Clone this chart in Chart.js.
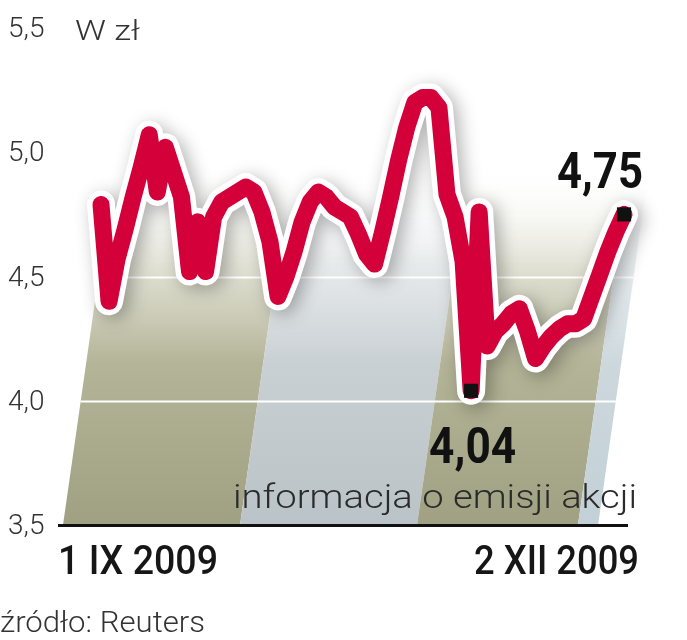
<!DOCTYPE html>
<html><head><meta charset="utf-8">
<script src="https://cdn.jsdelivr.net/npm/chart.js@4.4.1/dist/chart.umd.min.js"></script>
<style>html,body{margin:0;padding:0;background:#fff}#wrap{width:687px;height:640px;position:relative}canvas{display:block}</style>
</head><body><div id="wrap"><canvas id="c" width="687" height="640"></canvas></div>
<script>
// ---- data ----
const categories = [
 '1.09','2.09','3.09','4.09','7.09','8.09','9.09','10.09','11.09','14.09','15.09','16.09','17.09','18.09','21.09','22.09','23.09','24.09','25.09','28.09','29.09','30.09',
 '1.10','2.10','5.10','6.10','7.10','8.10','9.10','12.10','13.10','14.10','15.10','16.10','19.10','20.10','21.10','22.10','23.10','26.10','27.10','28.10','29.10','30.10',
 '2.11','3.11','4.11','5.11','6.11','9.11','10.11','12.11','13.11','16.11','17.11','18.11','19.11','20.11','23.11','24.11','25.11','26.11','27.11','30.11',
 '1.12','2.12'
];
const prices = [
 4.79, 4.40, 4.57, 4.69, 4.82, 4.94, 5.07, 4.84, 5.02, 4.92,
 4.82, 4.52, 4.72, 4.52, 4.74, 4.80, 4.82, 4.84, 4.86, 4.84,
 4.76, 4.64, 4.42, 4.50, 4.60, 4.72, 4.80, 4.84, 4.82, 4.78,
 4.76, 4.74, 4.67, 4.59, 4.55, 4.68, 4.82, 4.97, 5.10, 5.20,
 5.22, 5.22, 5.18, 4.83, 4.74, 4.56, 4.04, 4.76, 4.22, 4.28,
 4.31, 4.35, 4.37, 4.28, 4.17, 4.22, 4.26, 4.29, 4.31, 4.31,
 4.33, 4.42, 4.51, 4.60, 4.68, 4.75
];
const yTicks = [3.5, 4.0, 4.5, 5.0, 5.5];
const gridValues = [4.0, 4.5];
const unitLabel = 'W zł';
const edgeLabels = ['1 IX 2009', '2 XII 2009'];
const markedIdx = [46, 65];
const markedLabels = ['4,04', '4,75'];
const noteText = 'informacja o emisji akcji';
const sourceText = 'źródło: Reuters';
const monthBounds = [0, 22, 44, 64, 66.5]; // category indices where months begin (Sep, Oct, Nov, Dec, end)

// ---- drawing helpers ----
const SLANT = 0.143;
const BAND_SHIFT = -38;
const bandStyles = [
  {bottom:'rgb(160,160,130)', mid:'rgb(180,180,152)', top:'rgba(220,220,205,0.85)'},
  {bottom:'rgb(186,195,199)', mid:'rgb(201,208,211)', top:'rgba(226,230,232,0.85)'},
  {bottom:'rgb(160,160,130)', mid:'rgb(180,180,152)', top:'rgba(220,220,205,0.85)'},
  {bottom:'rgb(194,208,215)', mid:'rgb(205,216,221)', top:'rgba(228,234,237,0.85)'}
];

function fitText(ctx, text, x, y, font, width, align, color) {
  ctx.save();
  ctx.font = font;
  ctx.fillStyle = color || '#1a1a1a';
  ctx.textBaseline = 'alphabetic';
  ctx.textAlign = 'left';
  const m = ctx.measureText(text).width;
  const s = width / m;
  ctx.translate(x, y);
  ctx.scale(s, 1);
  ctx.fillText(text, align === 'right' ? -m : 0, 0);
  ctx.restore();
}

const decor = {
  id: 'decor',
  beforeDatasetsDraw(chart) {
    const {ctx, scales:{x, y}} = chart;
    const yb = y.getPixelForValue(yTicks[0]);
    const yTop = y.getPixelForValue(4.95);
    const edge = (idx, py) => x.getPixelForValue(idx) + BAND_SHIFT + (yb - py) * SLANT;
    ctx.save();
    for (let k = 0; k < monthBounds.length - 1; k++) {
      const st = bandStyles[k];
      const g = ctx.createLinearGradient(0, yb, 0, yTop);
      g.addColorStop(0, st.bottom);
      g.addColorStop(0.45, st.mid);
      g.addColorStop(0.72, st.top);
      g.addColorStop(1, 'rgba(255,255,255,0)');
      ctx.fillStyle = g;
      ctx.beginPath();
      ctx.moveTo(edge(monthBounds[k], yb), yb);
      ctx.lineTo(edge(monthBounds[k+1], yb), yb);
      ctx.lineTo(edge(monthBounds[k+1], yTop), yTop);
      ctx.lineTo(edge(monthBounds[k], yTop), yTop);
      ctx.closePath();
      ctx.fill();
    }
    ctx.strokeStyle = '#ffffff';
    ctx.lineWidth = 2;
    gridValues.forEach(v => {
      const py = Math.round(y.getPixelForValue(v)) + 0.5;
      ctx.beginPath();
      ctx.moveTo(edge(monthBounds[0], py), py);
      ctx.lineTo(edge(monthBounds[monthBounds.length-1], py), py);
      ctx.stroke();
    });
    ctx.strokeStyle = '#111';
    ctx.lineWidth = 3;
    ctx.beginPath();
    ctx.moveTo(58, yb + 0.5);
    ctx.lineTo(628, yb + 0.5);
    ctx.stroke();
    ctx.restore();
  },
  beforeDatasetDraw(chart, args) {
    if (args.index === 0) {
      const ctx = chart.ctx;
      ctx.save();
      ctx.shadowColor = 'rgba(0,0,0,0.3)';
      ctx.shadowBlur = 18;
      ctx.shadowOffsetX = 5;
      ctx.shadowOffsetY = 4;
    }
  },
  afterDatasetDraw(chart, args) {
    if (args.index === 0) chart.ctx.restore();
  },
  afterDraw(chart) {
    const {ctx, scales:{x, y}} = chart;
    const yb = y.getPixelForValue(yTicks[0]);
    const light = '300 34px Roboto, "DejaVu Sans", sans-serif';
    const medium = '500 40px Roboto, "DejaVu Sans", sans-serif';
    const heavy = '700 50px Roboto, "DejaVu Sans", sans-serif';
    fitText(ctx, unitLabel, 75, 40, '300 28px Roboto, sans-serif', 65, 'left', '#333');
    fitText(ctx, edgeLabels[0], 58, yb + 49, medium, 160, 'left', '#161616');
    fitText(ctx, edgeLabels[1], 639, yb + 49, medium, 165, 'right', '#161616');
    const p0x = x.getPixelForValue(markedIdx[0]), p0y = y.getPixelForValue(prices[markedIdx[0]]);
    const p1x = x.getPixelForValue(markedIdx[1]), p1y = y.getPixelForValue(prices[markedIdx[1]]);
    fitText(ctx, markedLabels[0], p0x - 42, p0y + 72, heavy, 87, 'left', '#111');
    fitText(ctx, markedLabels[1], p1x - 67, p1y - 26, heavy, 86, 'left', '#111');
    fitText(ctx, noteText, 233, yb - 17, light, 404, 'left', '#2a2a2a');
    fitText(ctx, sourceText, 0, 632, '300 29px Roboto, sans-serif', 205, 'left', '#333');
  }
};

const markerData = prices.map((v, i) => markedIdx.includes(i) ? v : null);

new Chart(document.getElementById('c'), {
  type: 'line',
  data: {
    labels: categories,
    datasets: [
      {data: prices, order: 3, borderColor: '#ffffff', borderWidth: 28, pointRadius: 0, tension: 0,
       borderJoinStyle: 'round', borderCapStyle: 'round', clip: false, fill: false},
      {data: prices, order: 2, borderColor: '#d3003a', borderWidth: 17, pointRadius: 0, tension: 0,
       borderJoinStyle: 'round', borderCapStyle: 'round', clip: false, fill: false},
      {data: markerData, order: 1, showLine: false, pointStyle: 'rect', pointRadius: 10, pointHoverRadius: 10,
       pointBackgroundColor: '#111', pointBorderWidth: 0, clip: false}
    ]
  },
  options: {
    responsive: false,
    animation: false,
    devicePixelRatio: 1,
    events: [],
    layout: {padding: {left: 8, right: 63, top: 28, bottom: 115}},
    plugins: {legend: {display: false}, tooltip: {enabled: false}},
    scales: {
      x: {type: 'category', display: false, offset: false},
      y: {
        min: yTicks[0], max: yTicks[yTicks.length-1],
        afterBuildTicks: (s) => { s.ticks = yTicks.map(v => ({value: v})); },
        afterFit: (s) => { s.width = 93; },
        grid: {display: false},
        border: {display: false},
        ticks: {
          crossAlign: 'far', padding: 0, color: '#333', labelOffset: 2,
          font: {family: 'Roboto', size: 28, weight: '300'},
          callback: (v) => Number(v).toFixed(1).replace('.', ',')
        }
      }
    }
  },
  plugins: [decor]
});
</script></body></html>
